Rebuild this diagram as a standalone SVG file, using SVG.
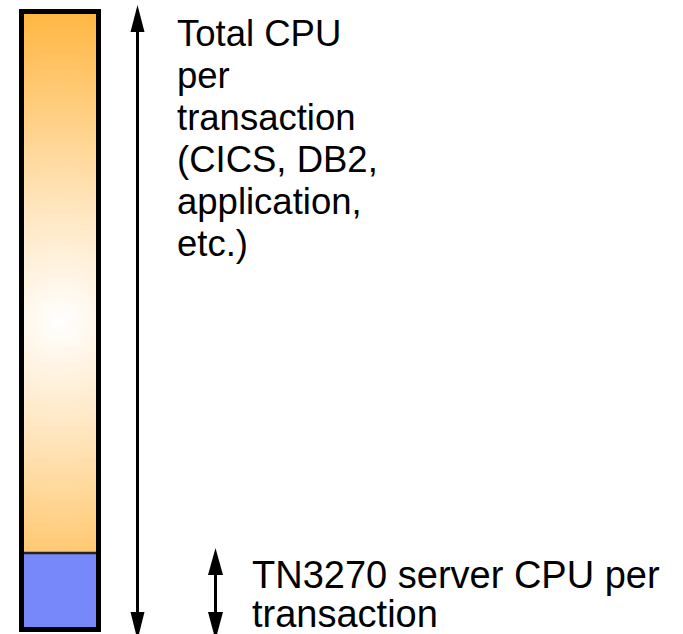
<svg xmlns="http://www.w3.org/2000/svg" width="683" height="634" viewBox="0 0 683 634">
  <style>
    .lbl { font-family: "Liberation Sans", Arial, sans-serif; fill: #000; }
    .shaft { stroke: #000; stroke-width: 3; fill: none; }
  </style>
  <defs>
    <radialGradient id="glow" gradientUnits="userSpaceOnUse" cx="60" cy="321" r="320">
      <stop offset="0" stop-color="#FFFFFF"/>
      <stop offset="0.35" stop-color="#FFE6C0"/>
      <stop offset="0.7" stop-color="#FFCB78"/>
      <stop offset="1" stop-color="#FFB43C"/>
    </radialGradient>
  </defs>

  <g id="bar">
    <rect x="21.5" y="11.5" width="77" height="618" fill="url(#glow)"/>
    <rect x="21.5" y="553" width="77" height="76.5" fill="#7788FA"/>
    <line x1="21.5" y1="553" x2="98.5" y2="553" stroke="#222" stroke-width="2.5"/>
    <rect x="21.5" y="11.5" width="77" height="618" fill="none" stroke="#000" stroke-width="5"/>
  </g>

  <g id="connectors">
    <line class="shaft" x1="137.5" y1="30" x2="137.5" y2="612"/>
    <path d="M137.5,5 L144.5,32 L130.5,32 Z" fill="#000"/>
    <path d="M137.5,640 L144.5,612 L130.5,612 Z" fill="#000"/>
    <line class="shaft" x1="215.5" y1="572" x2="215.5" y2="614"/>
    <path d="M215.5,548 L223,575 L208,575 Z" fill="#000"/>
    <path d="M215.5,640 L223,612 L208,612 Z" fill="#000"/>
  </g>

  <g id="label-total">
    <text class="lbl" font-size="36.5" x="177">
      <tspan x="177" y="46">Total CPU</tspan>
      <tspan x="177" y="88">per</tspan>
      <tspan x="177" y="130">transaction</tspan>
      <tspan x="177" y="172">(CICS, DB2,</tspan>
      <tspan x="177" y="214">application,</tspan>
      <tspan x="177" y="256">etc.)</tspan>
    </text>
  </g>

  <g id="label-tn3270">
    <text class="lbl" font-size="38" x="252">
      <tspan x="252" y="588">TN3270 server CPU per</tspan>
      <tspan x="252" y="627">transaction</tspan>
    </text>
  </g>
</svg>
